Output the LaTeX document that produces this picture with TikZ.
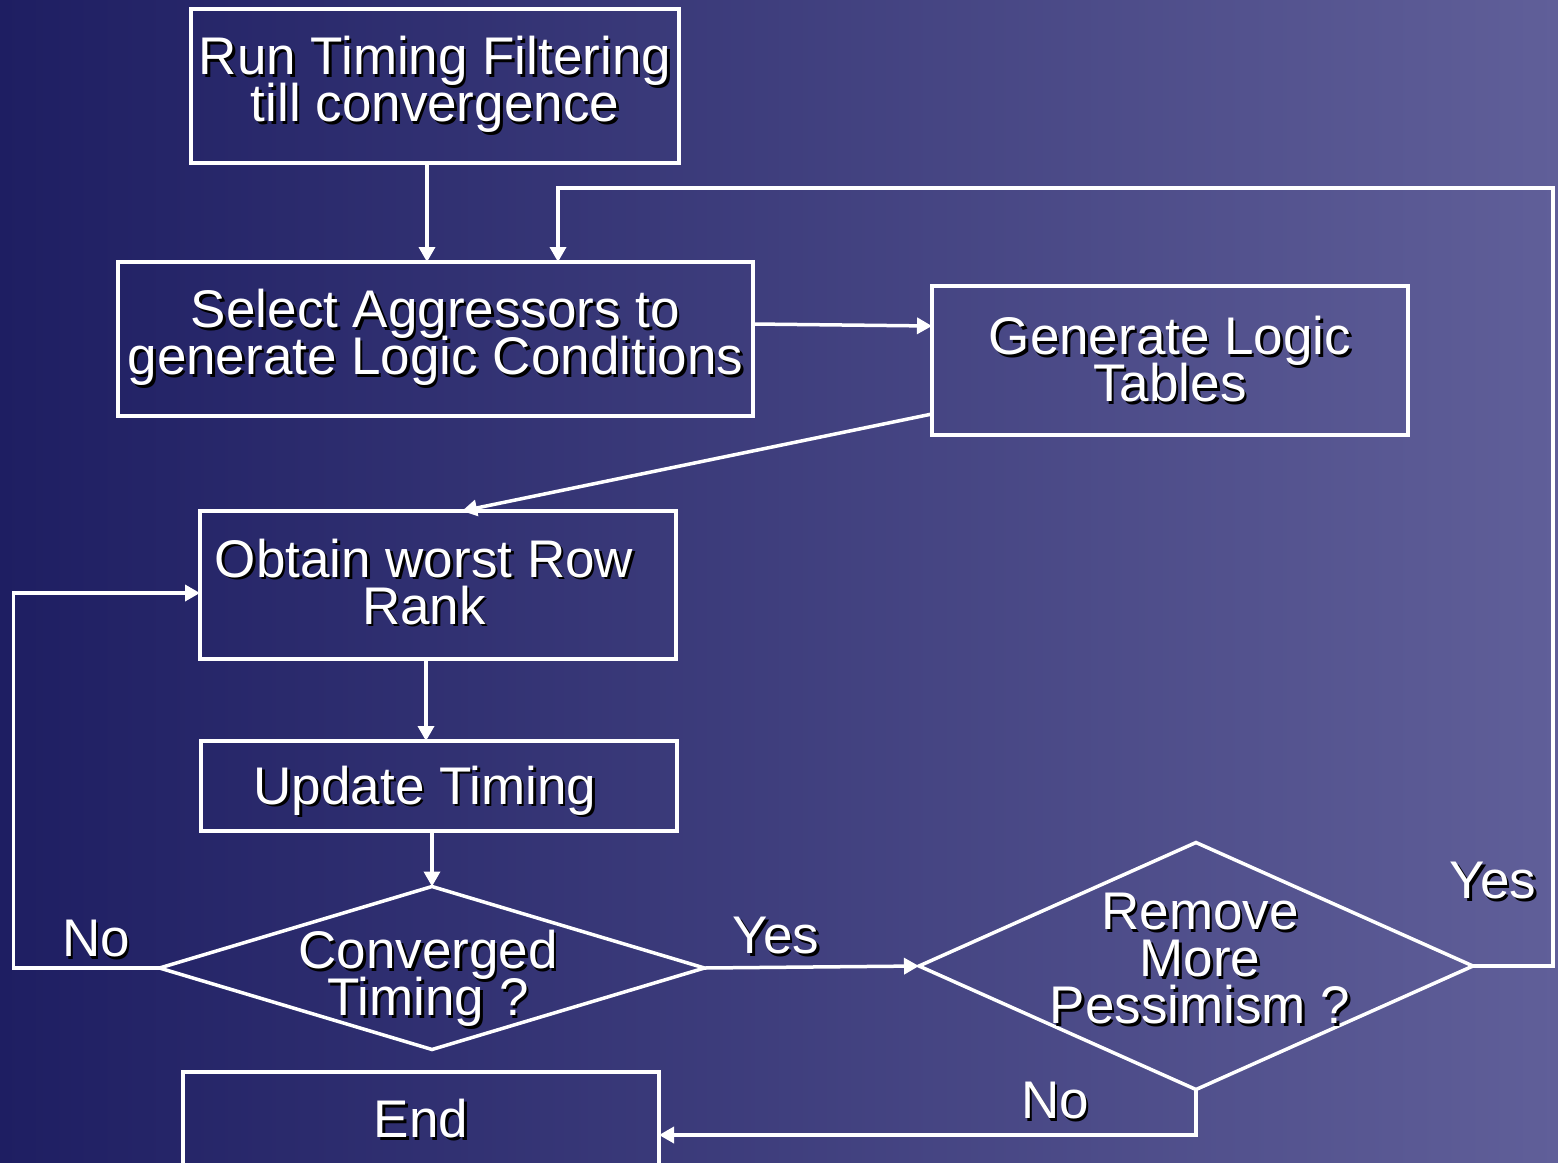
\documentclass[tikz,border=0pt]{standalone}
\usepackage{fontspec}
\setmainfont{Liberation Sans}
\usetikzlibrary{shapes.geometric,arrows.meta}
\definecolor{bgleft}{RGB}{30,30,98}
\definecolor{bgright}{RGB}{96,95,153}
% tight line spacing as on the slide
\newcommand\flowfont{\fontsize{26.5}{23.5}\selectfont\lineskiplimit=-30pt\relax\lineskip=0pt\relax}
% white text with a dark drop shadow
\newcommand\shd[1]{\leavevmode\rlap{\kern1.25pt\raisebox{-1.25pt}{\color{black}#1}}#1}

\begin{document}
\begin{tikzpicture}[x=0.5pt,y=-0.5pt,
  every node/.style={font=\flowfont, text=white, align=center},
  blk/.style={draw=white, line width=1.75pt, rectangle, inner sep=0pt, outer sep=0pt},
  dec/.style={draw=white, line width=1.75pt, diamond, inner sep=0pt, outer sep=0pt},
  arr/.style={draw=white, line width=1.75pt, -{Triangle[length=7.5pt,width=8pt]}}]
\useasboundingbox (0,0) rectangle (1558,1162);
\clip (0,0) rectangle (1558,1162);
\shade[left color=bgleft, right color=bgright] (0,0) rectangle (1558,1162);
% boxes
\node[blk, minimum width=244pt, minimum height=77pt] (run) at (435,86) {\shd{Run Timing Filtering}\\\shd{till convergence}};
\node[blk, minimum width=317.5pt, minimum height=77pt] (select) at (435.5,339) {\shd{Select Aggressors to}\\\shd{generate Logic Conditions}};
\node[blk, minimum width=238pt, minimum height=74.5pt] (gen) at (1170,360.5) {\shd{Generate Logic}\\\shd{Tables}};
\node[blk, minimum width=238pt, minimum height=74pt,
  label={[name=obtain-t, xshift=-7pt, yshift=1pt]center:{\shd{Obtain worst Row}\\\shd{Rank}}}] (obtain) at (438,585) {};
\node[blk, minimum width=238pt, minimum height=45pt,
  label={[name=update-t, xshift=-7pt, yshift=-3pt]center:{\shd{Update Timing}}}] (update) at (439,786) {};
\node[blk, minimum width=238pt, minimum height=48pt] (endbox) at (421,1120) {\shd{End}};
% decisions
\node[dec, minimum width=272.5pt, minimum height=81.5pt,
  label={[name=conv-t, xshift=-2pt, yshift=-6pt]center:{\shd{Converged}\\\shd{Timing ?}}}] (conv) at (432,968) {};
\node[dec, minimum width=277pt, minimum height=123.5pt,
  label={[name=remove-t, xshift=2pt, yshift=3pt]center:{\shd{Remove}\\\shd{More}\\\shd{Pessimism ?}}}] (remove) at (1196,966) {};
% connectors
\draw[arr] ([xshift=-4pt]run.south) -- ([xshift=-4pt]run.south |- select.north);
\draw[arr] (remove.east) -| (1553,188) -| ([xshift=61.25pt]select.north);
\draw[arr] ([yshift=7.5pt]select.east) -- ([yshift=17.25pt]gen.west);
\draw[arr] ([yshift=10.5pt]gen.south west) -- ([xshift=12pt]obtain.north);
\draw[arr] ([xshift=-6pt]obtain.south) -- ([xshift=-6pt]obtain.south |- update.north);
\draw[arr] (update.south -| conv.north) -- (conv.north);
\draw[arr] (conv.west) -- ++(-146,0) |- ([yshift=-4pt]obtain.west);
\draw[arr] (conv.east) -- (remove.west);
\draw[arr] (remove.south) |- ([yshift=-7.5pt]endbox.east);
% branch labels
\node (no1) at (96,940) {\shd{No}};
\node (yes1) at (776,937) {\shd{Yes}};
\node (yes2) at (1493,882) {\shd{Yes}};
\node (no2) at (1055,1102) {\shd{No}};
\end{tikzpicture}
\end{document}
